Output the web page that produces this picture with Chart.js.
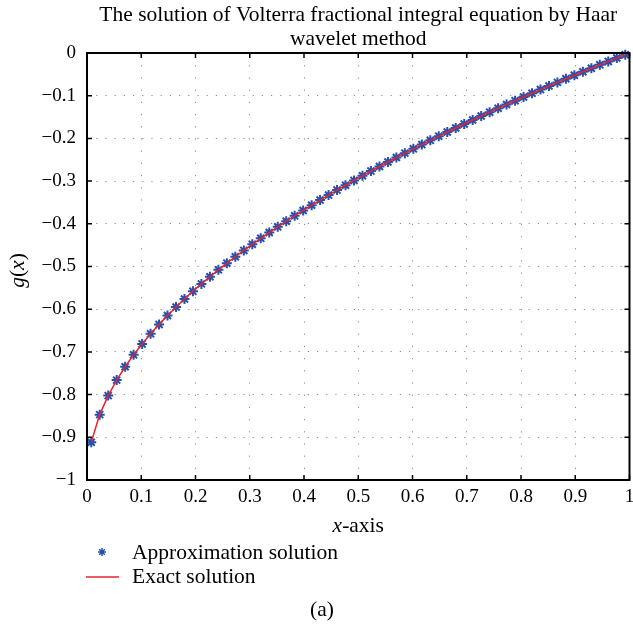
<!DOCTYPE html>
<html>
<head>
<meta charset="utf-8">
<script src="https://cdn.jsdelivr.net/npm/chart.js@4.4.1/dist/chart.umd.min.js"></script>
<style>
  html, body { margin: 0; padding: 0; background: #ffffff; }
  #wrap { width: 633px; height: 631px; position: relative; }
</style>
</head>
<body>
<div id="wrap"><canvas id="c" width="633" height="631"></canvas></div>
<script>
// ---- data ----
const titleLines = ["The solution of Volterra fractional integral equation by Haar", "wavelet method"];
const xValues = [
  0.0078, 0.0234, 0.0391, 0.0547, 0.0703, 0.0859, 0.1016, 0.1172,
  0.1328, 0.1484, 0.1641, 0.1797, 0.1953, 0.2109, 0.2266, 0.2422,
  0.2578, 0.2734, 0.2891, 0.3047, 0.3203, 0.3359, 0.3516, 0.3672,
  0.3828, 0.3984, 0.4141, 0.4297, 0.4453, 0.4609, 0.4766, 0.4922,
  0.5078, 0.5234, 0.5391, 0.5547, 0.5703, 0.5859, 0.6016, 0.6172,
  0.6328, 0.6484, 0.6641, 0.6797, 0.6953, 0.7109, 0.7266, 0.7422,
  0.7578, 0.7734, 0.7891, 0.8047, 0.8203, 0.8359, 0.8516, 0.8672,
  0.8828, 0.8984, 0.9141, 0.9297, 0.9453, 0.9609, 0.9766, 0.9922
];
const approxValues = [
  -0.9116, -0.8469, -0.8024, -0.7661, -0.7348, -0.7068, -0.6813, -0.6577,
  -0.6356, -0.6147, -0.5950, -0.5761, -0.5581, -0.5407, -0.5240, -0.5079,
  -0.4922, -0.4771, -0.4624, -0.4480, -0.4340, -0.4204, -0.4071, -0.3940,
  -0.3813, -0.3688, -0.3565, -0.3445, -0.3327, -0.3211, -0.3097, -0.2984,
  -0.2874, -0.2765, -0.2658, -0.2552, -0.2448, -0.2345, -0.2244, -0.2144,
  -0.2045, -0.1947, -0.1851, -0.1756, -0.1662, -0.1568, -0.1476, -0.1385,
  -0.1295, -0.1206, -0.1117, -0.1030, -0.0943, -0.0857, -0.0772, -0.0688,
  -0.0604, -0.0521, -0.0439, -0.0358, -0.0277, -0.0197, -0.0118, -0.0039
];
const exactValues = [
  -0.9116, -0.8469, -0.8024, -0.7661, -0.7348, -0.7068, -0.6813, -0.6577,
  -0.6356, -0.6147, -0.5950, -0.5761, -0.5581, -0.5407, -0.5240, -0.5079,
  -0.4922, -0.4771, -0.4624, -0.4480, -0.4340, -0.4204, -0.4071, -0.3940,
  -0.3813, -0.3688, -0.3565, -0.3445, -0.3327, -0.3211, -0.3097, -0.2984,
  -0.2874, -0.2765, -0.2658, -0.2552, -0.2448, -0.2345, -0.2244, -0.2144,
  -0.2045, -0.1947, -0.1851, -0.1756, -0.1662, -0.1568, -0.1476, -0.1385,
  -0.1295, -0.1206, -0.1117, -0.1030, -0.0943, -0.0857, -0.0772, -0.0688,
  -0.0604, -0.0521, -0.0439, -0.0358, -0.0277, -0.0197, -0.0118, -0.0039
];
const seriesLabels = ["Approximation solution", "Exact solution"];
const xTickValues = [0, 0.1, 0.2, 0.3, 0.4, 0.5, 0.6, 0.7, 0.8, 0.9, 1];
const yTickValues = [0, -0.1, -0.2, -0.3, -0.4, -0.5, -0.6, -0.7, -0.8, -0.9, -1];
const caption = "(a)";

// ---- styling ----
const FONT = '"Liberation Serif", "DejaVu Serif", serif';
const TXT = '21.5px ';
const BLUE = '#2650ad';
const RED = '#e8232d';

function fmt(v) {
  const r = Math.round(v * 10) / 10;
  return String(r).replace('-', '\u2212');
}

const decorPlugin = {
  id: 'decor',
  afterDraw(chart) {
    const ctx = chart.ctx;
    const a = chart.chartArea;
    const xs = chart.scales.x, ys = chart.scales.y;
    ctx.save();
    // frame
    ctx.strokeStyle = '#000';
    ctx.lineWidth = 2;
    ctx.strokeRect(a.left, a.top, a.right - a.left, a.bottom - a.top);
    // inward ticks on all four sides
    ctx.lineWidth = 1.5;
    const TL = 5;
    xTickValues.forEach(v => {
      const px = xs.getPixelForValue(v);
      ctx.beginPath();
      ctx.moveTo(px, a.bottom); ctx.lineTo(px, a.bottom - TL);
      ctx.moveTo(px, a.top); ctx.lineTo(px, a.top + TL);
      ctx.stroke();
    });
    yTickValues.forEach(v => {
      const py = ys.getPixelForValue(v);
      ctx.beginPath();
      ctx.moveTo(a.left, py); ctx.lineTo(a.left + TL, py);
      ctx.moveTo(a.right, py); ctx.lineTo(a.right - TL, py);
      ctx.stroke();
    });
    const cx = (a.left + a.right) / 2;
    ctx.fillStyle = '#000';
    // title
    ctx.font = TXT + FONT;
    ctx.textAlign = 'center';
    ctx.textBaseline = 'alphabetic';
    ctx.fillText(titleLines[0], cx, 21);
    ctx.fillText(titleLines[1], cx, 45);
    // x axis title: italic x + "-axis"
    const part1 = 'x', part2 = '-axis';
    ctx.font = 'italic ' + TXT + FONT;
    const w1 = ctx.measureText(part1).width;
    ctx.font = TXT + FONT;
    const w2 = ctx.measureText(part2).width;
    let sx = cx - (w1 + w2) / 2;
    ctx.textAlign = 'left';
    ctx.font = 'italic ' + TXT + FONT;
    ctx.fillText(part1, sx, 532);
    ctx.font = TXT + FONT;
    ctx.fillText(part2, sx + w1, 532);
    // y axis title: g(x) rotated
    ctx.save();
    ctx.translate(24, (a.top + a.bottom) / 2 + 4);
    ctx.rotate(-Math.PI / 2);
    const parts = [['g', true], ['(', false], ['x', true], [')', false]];
    let tw = 0;
    parts.forEach(p => { ctx.font = (p[1] ? 'italic ' : '') + TXT + FONT; tw += ctx.measureText(p[0]).width; });
    let px0 = -tw / 2;
    parts.forEach(p => {
      ctx.font = (p[1] ? 'italic ' : '') + TXT + FONT;
      ctx.fillText(p[0], px0, 0);
      px0 += ctx.measureText(p[0]).width;
    });
    ctx.restore();
    // legend
    ctx.strokeStyle = BLUE;
    ctx.fillStyle = BLUE;
    Chart.helpers.drawPoint(ctx, {pointStyle: 'star', radius: 4, borderWidth: 1.5, rotation: 0}, 102, 552);
    ctx.strokeStyle = RED;
    ctx.lineWidth = 1.5;
    ctx.beginPath(); ctx.moveTo(86, 577); ctx.lineTo(119, 577); ctx.stroke();
    ctx.fillStyle = '#000';
    ctx.font = TXT + FONT;
    ctx.textAlign = 'left';
    ctx.fillText(seriesLabels[0], 132, 559);
    ctx.fillText(seriesLabels[1], 132, 583);
    // caption
    ctx.textAlign = 'center';
    ctx.fillText(caption, 322, 616);
    ctx.restore();
  }
};

new Chart(document.getElementById('c'), {
  type: 'scatter',
  data: {
    datasets: [
      {
        label: seriesLabels[0],
        data: xValues.map((x, i) => ({x: x, y: approxValues[i]})),
        showLine: false,
        pointStyle: 'star',
        pointRadius: 5,
        pointBorderWidth: 2,
        borderColor: BLUE,
        backgroundColor: BLUE,
        clip: 8,
        order: 2
      },
      {
        label: seriesLabels[1],
        data: xValues.map((x, i) => ({x: x, y: exactValues[i]})),
        showLine: true,
        pointRadius: 0,
        borderColor: RED,
        borderWidth: 1.5,
        tension: 0,
        clip: 4,
        order: 1
      }
    ]
  },
  options: {
    responsive: false,
    animation: false,
    devicePixelRatio: 1,
    layout: { autoPadding: false, padding: { top: 53, right: 3.5, left: 0, bottom: 0 } },
    plugins: { legend: { display: false }, tooltip: { enabled: false }, title: { display: false } },
    scales: {
      x: {
        type: 'linear', min: 0, max: 1,
        afterBuildTicks(s) { s.ticks = xTickValues.map(v => ({value: v})); },
        afterFit(s) { s.height = 151; s.paddingLeft = 0; s.paddingRight = 0; },
        ticks: { callback: v => fmt(v), font: { family: FONT, size: 19 }, color: '#000', padding: 6, maxRotation: 0 },
        grid: { color: '#8c8c8c', lineWidth: 1, drawTicks: false },
        border: { display: false, dash: [1.2, 11] }
      },
      y: {
        type: 'linear', min: -1, max: 0,
        afterBuildTicks(s) { s.ticks = yTickValues.map(v => ({value: v})); },
        afterFit(s) { s.width = 87; s.paddingTop = 0; s.paddingBottom = 0; },
        ticks: { callback: v => fmt(v), font: { family: FONT, size: 19 }, color: '#000', padding: 11 },
        grid: { color: '#8c8c8c', lineWidth: 1, drawTicks: false },
        border: { display: false, dash: [1.2, 8] }
      }
    }
  },
  plugins: [decorPlugin]
});
</script>
</body>
</html>
